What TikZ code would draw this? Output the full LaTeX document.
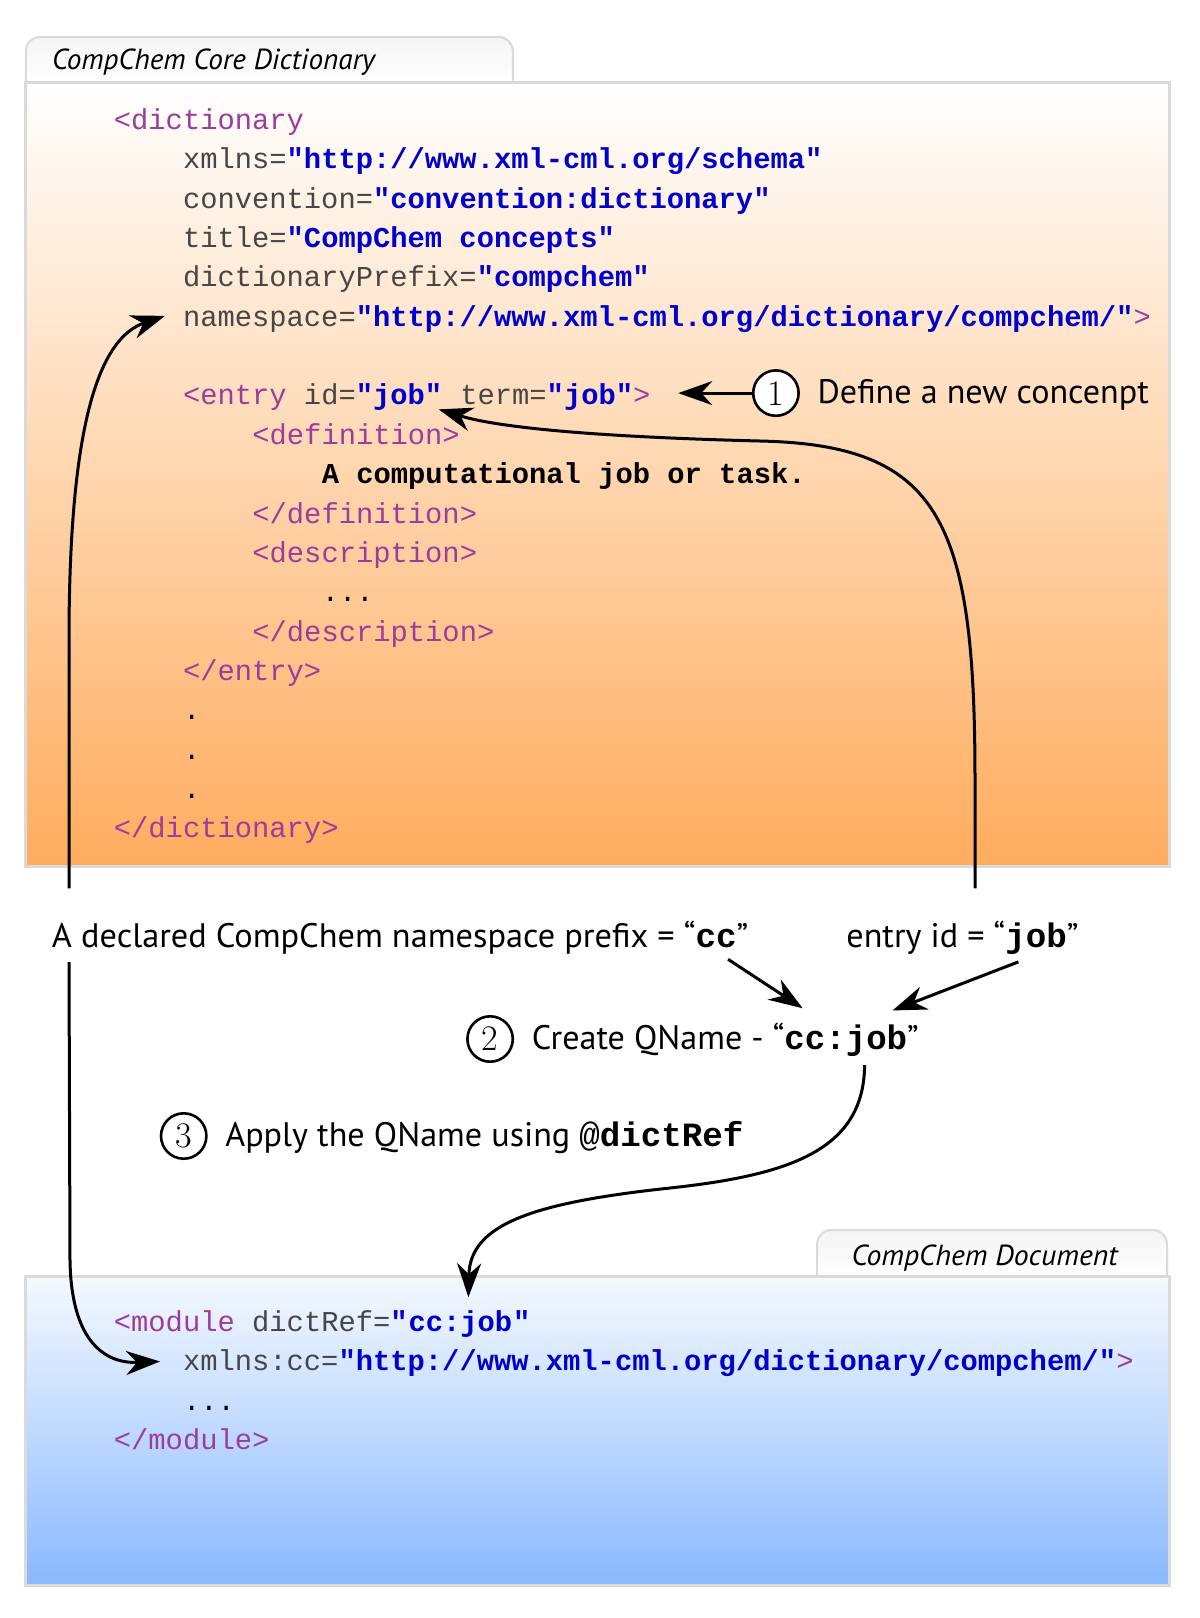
\documentclass[tikz,border=0pt]{standalone}
\usepackage{fontspec}
\usepackage{graphicx}
\newfontfamily\code{Liberation Mono}
\newfontfamily\sans{PT Sans}
\usetikzlibrary{arrows.meta}
\definecolor{tagc}{RGB}{156,60,156}
\definecolor{attc}{RGB}{70,70,70}
\definecolor{valc}{RGB}{0,0,204}
\definecolor{orangebot}{RGB}{255,172,94}
\definecolor{bluetop}{RGB}{245,249,255}
\definecolor{bluebot}{RGB}{137,184,255}
\definecolor{boxgray}{RGB}{218,218,218}
\newcommand\xtag[1]{\textcolor{tagc}{#1}}
\newcommand\xatt[1]{\textcolor{attc}{#1}}
\newcommand\xval[1]{\textcolor{valc}{\bfseries #1}}
\newcommand\codefont{\code\fontsize{14.4}{17}\selectfont}
\newcommand\labfont{\sans\fontsize{17}{20}\selectfont}
\newcommand\tabfont{\sans\itshape\fontsize{14.5}{17}\selectfont}
\newcommand\numfontsz{\fontsize{18}{18}\selectfont}
\tikzset{
  codecont/.style={anchor=base west, inner sep=0pt, font=\codefont},
  codeline/.style={anchor=mid west, inner sep=0pt, font=\codefont, yshift=-2.75pt},
  lbl/.style={anchor=mid west, inner sep=0pt, font=\labfont, yshift=-2.9pt},
  tablbl/.style={anchor=mid west, inner sep=0pt, font=\tabfont, yshift=-2.9pt},
  num/.style={circle, draw, line width=1.3pt, fill=white, minimum size=22.7pt, inner sep=0pt, font=\numfontsz},
  arr/.style={line width=1.5pt, -{Stealth[length=17pt,width=12pt,inset=5.5pt]}},
  panel/.style={draw=boxgray, line width=1.5pt},
  tabshape/.style={draw=boxgray, line width=1pt, top color=gray!8, bottom color=white, rounded corners=7pt},
}
\begin{document}
\begin{tikzpicture}[x=0.5pt,y=-0.5pt]
\useasboundingbox (0,0) rectangle (1200,1618);
\fill[white] (0,0) rectangle (1200,1618);

% ---------- top panel ----------
\path[tabshape] (25.8,84) -- (25.8,37) -- (512.8,37) -- (512.8,84);
\node[tablbl] (tabtop) at (51.6,59.8) {\resizebox{161.5pt}{\height}{CompChem Core Dictionary}};
\path[panel, top color=white, bottom color=orangebot] (25.8,82.5) rectangle (1169,866.7);

\node[codeline] (l1) at (113.5,119.7) {\xtag{<dictionary}};
\node[codeline] (l2) at (182.6,159.05) {\xatt{xmlns=}\xval{"http://www.xml-cml.org/schema"}};
\node[codeline] (l3) at (182.6,198.4) {\xatt{convention=}\xval{"convention:dictionary"}};
\node[codeline] (l4) at (182.6,237.75) {\xatt{title=}\xval{"CompChem concepts"}};
\node[codeline] (l5) at (182.6,277.1) {\xatt{dictionaryPrefix=}\xval{"compchem"}};
\node[codeline] (l6) at (182.6,316.45) {\xatt{namespace=}\xval{"http://www.xml-cml.org/dictionary/compchem/"}\xtag{>}};
\node[codeline] (entryA) at (182.6,395.15) {\xtag{<entry} \xatt{id=}\xval{"job"}};
\node[codecont] (entryB) at (entryA.base east) {\ \xatt{term=}\xval{"job"}\xtag{>}};
\node[codeline] (l9) at (252,434.5) {\xtag{<definition>}};
\node[codeline] (l10) at (321.4,473.85) {\bfseries A computational job or task.};
\node[codeline] (l11) at (252,513.2) {\xtag{</definition>}};
\node[codeline] (l12) at (252,552.55) {\xtag{<description>}};
\node[codeline] (l13) at (321.4,591.9) {...};
\node[codeline] (l14) at (252,631.25) {\xtag{</description>}};
\node[codeline] (l15) at (182.6,670.6) {\xtag{</entry>}};
\node[codeline] (l16) at (182.6,709.95) {.};
\node[codeline] (l17) at (182.6,749.3) {.};
\node[codeline] (l18) at (182.6,788.65) {.};
\node[codeline] (l19) at (113.5,828.0) {\xtag{</dictionary>}};

% ---------- bottom panel ----------
\path[tabshape] (817.2,1278) -- (817.2,1230) -- (1167,1230) -- (1167,1278);
\node[tablbl] (tabbot) at (851.2,1255.7) {\resizebox{133pt}{\height}{CompChem Document}};
\path[panel, top color=bluetop, bottom color=bluebot] (25.8,1276.3) rectangle (1169,1585.9);

\node[codeline] (m1a) at (113.5,1321.7) {\xtag{<module} \xatt{dictRef=}\xval{"}};
\node[codecont] (m1b) at (m1a.base east) {\xval{cc:job}};
\node[codecont] (m1c) at (m1b.base east) {\xval{"}};
\node[codeline] (m2) at (182.6,1361.05) {\xatt{xmlns:cc=}\xval{"http://www.xml-cml.org/dictionary/compchem/"}\xtag{>}};
\node[codeline] (m3) at (182.6,1400.4) {...};
\node[codeline] (m4) at (113.5,1439.75) {\xtag{</module>}};

% ---------- labels ----------
\node[num] (c1) at (775.9,393.1) {1};
\node[lbl] (lab1) at (817.2,393.1) {\resizebox{165.6pt}{\height}{Define a new concenpt}};
\node[lbl] (labA) at (51.6,937) {\resizebox{348.2pt}{\height}{A declared CompChem namespace prefix = “{\code\bfseries cc}”}};
\node[lbl] (labE) at (846,937) {\resizebox{116pt}{\height}{entry id = “{\code\bfseries job}”}};
\node[num] (c2) at (490.1,1039) {2};
\node[lbl] (lab2) at (531.4,1039) {\resizebox{193.5pt}{\height}{Create QName - “{\code\bfseries cc:job}”}};
\node[num] (c3) at (183.7,1136) {3};
\node[lbl] (lab3) at (224.9,1136) {\resizebox{259pt}{\height}{Apply the QName using {\code @\bfseries dictRef}}};

% ---------- connectors ----------
\coordinate (t1) at ([xshift=13.7pt]entryB.east);
\draw[arr] (c1) -- (c1 -| t1);
\draw[arr] ([shift={(129,-32)}]labE.north west) -- (975,780)
  .. controls (975,520) and (940,445) .. (760,441)
  .. controls (600,437) and (500,428) .. ([shift={(-4,-2)}]entryA.south east);
\draw[arr] ([shift={(17.4,-32)}]labA.north west) -- (69,640)
  .. controls (69,420) and (100,338) .. ([shift={(-17.6,-3)}]l6.west);
\draw[arr] ([shift={(17.4,7.7)}]labA.south west) -- (70,1260)
  .. controls (71,1335) and (100,1364) .. ([shift={(-22.6,-2)}]m2.west);
\draw[arr] ([shift={(-20.7,5)}]labA.south east) -- ([shift={(271.3,-14)}]lab2.north west);
\draw[arr] ([shift={(172.4,7.3)}]labE.south west) -- ([shift={(361.1,-11.8)}]lab2.north west);
\draw[arr] ([shift={(333.2,8.5)}]lab2.south west) .. controls (864,1150) and (790,1175) .. (670,1188)
  .. controls (530,1203) and (470,1225) .. ([shift={(8,-13)}]m1b.north);
\end{tikzpicture}
\end{document}
